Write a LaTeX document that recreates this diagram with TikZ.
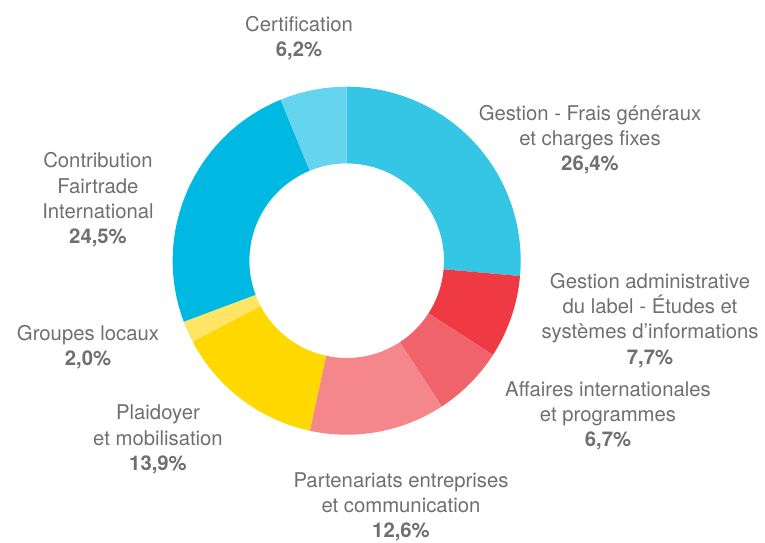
\documentclass[tikz,border=0pt]{standalone}
\usepackage{fontspec}
\setmainfont{TeX Gyre Heros}
\definecolor{gestion}{RGB}{53,198,230}
\definecolor{admin}{RGB}{239,58,67}
\definecolor{affaires}{RGB}{240,99,106}
\definecolor{partenariats}{RGB}{244,134,140}
\definecolor{plaidoyer}{RGB}{255,216,0}
\definecolor{groupes}{RGB}{255,229,102}
\definecolor{contribution}{RGB}{0,185,226}
\definecolor{certification}{RGB}{101,212,238}
\definecolor{labeltext}{RGB}{110,111,114}
\begin{document}
\begin{tikzpicture}[x=1pt,y=1pt]
        \tikzset{
            ring/.style args={#1:#2}{
              insert path={+(#1:174) arc (#1:#2:174) -- +(#2:-76.7) arc (#2:#1:97.3) -- cycle}
            },
            chartlabel/.style={align=center, text=labeltext, inner sep=0pt,
              font=\fontsize{20.3}{25.3}\selectfont}
          }
        \useasboundingbox (0,0) rectangle (765,542);
        \coordinate (c) at (346.7,281.3);
        \foreach \col/\from/\to in {gestion/90/-5.04, admin/-5.04/-32.76,
            affaires/-32.76/-56.88, partenariats/-56.88/-102.24,
            plaidoyer/-102.24/-152.28, groupes/-152.28/-159.48,
            contribution/-159.48/-247.68, certification/-247.68/-270}
          \fill[\col] (c) [ring=\from:\to];
        \node[chartlabel] (cert) at (299,504) {Certification\\\textbf{6,2\%}};
        \node[chartlabel] (gest) at (590,402.5) {Gestion - Frais généraux\\et charges fixes\\\textbf{26,4\%}};
        \node[chartlabel] (adm) at (650,221.5) {Gestion administrative\\du label - Études et\\systèmes d’informations\\\textbf{7,7\%}};
        \node[chartlabel] (aff) at (608,126) {Affaires internationales\\et programmes\\\textbf{6,7\%}};
        \node[chartlabel, anchor=south] (part) at (401,0.3) {Partenariats entreprises\\et communication\\\textbf{12,6\%}};
        \node[chartlabel] (plaid) at (158,102.5) {Plaidoyer\\et mobilisation\\\textbf{13,9\%}};
        \node[chartlabel] (grp) at (88,194.5) {Groupes locaux\\\textbf{2,0\%}};
        \node[chartlabel] (contr) at (98,342) {Contribution\\Fairtrade\\International\\\textbf{24,5\%}};
    \end{tikzpicture}
\end{document}
